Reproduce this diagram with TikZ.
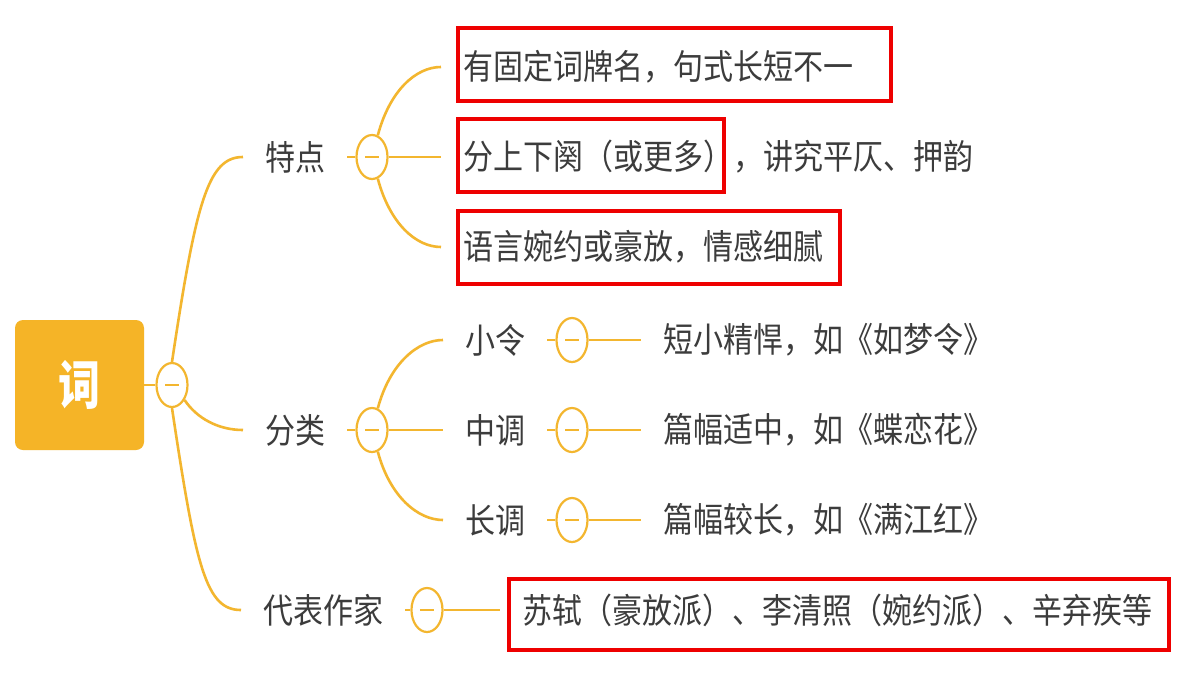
\documentclass[tikz,border=0pt]{standalone}
\usepackage{fontspec}
\setmainfont{Noto Sans CJK SC}
\usetikzlibrary{shapes.geometric}
\definecolor{gold}{HTML}{F3B62F}
\definecolor{rootc}{HTML}{F5B427}
\definecolor{txt}{HTML}{3C3C3C}
\definecolor{mark}{HTML}{EE0000}
\newcommand\vt[1]{\scalebox{1}[1.15]{#1}}
\begin{document}
\begin{tikzpicture}[x=1pt,y=-1pt,
 conn/.style={draw=gold,line width=2.6pt},
 fold/.style={ellipse,draw=gold,line width=2.2pt,fill=white,minimum width=31pt,minimum height=44pt,inner sep=0pt,
   path picture={\draw[gold,line width=2.2pt] ([xshift=-7pt]path picture bounding box.center) -- ([xshift=7pt]path picture bounding box.center);}},
 lab/.style={anchor=west,text=txt,font=\fontsize{30}{30}\selectfont,inner xsep=22pt,inner ysep=2pt},
 rootbox/.style={fill=rootc,rounded corners=8pt,minimum width=129pt,minimum height=130pt,text=white,font=\fontsize{42}{42}\selectfont\bfseries},
 redbox/.style={draw=mark,line width=4.5pt}]
\fill[white] (0,0) rectangle (1200,675);
\useasboundingbox (0,0) rectangle (1200,675);
% nodes
\node[rootbox] (r) at (79.5,385) {\scalebox{1}[1.25]{词}};
\node[fold] (rc) at (172,385) {};
\node[lab] (t1) at (243,157) {\vt{特点}};
\node[lab] (t2) at (243,430) {\vt{分类}};
\node[lab] (t3) at (241,610) {\vt{代表作家}};
\node[fold] (c1) at (372,157) {};
\node[fold] (c2) at (372,430) {};
\node[fold] (c3) at (427,610) {};
\node[lab] (a1) at (441,67) {\vt{有固定词牌名，句式长短不一}};
\node[lab] (a2) at (441,157) {\vt{分上下阕（或更多），讲究平仄、押韵}};
\node[lab] (a3) at (441,247) {\vt{语言婉约或豪放，情感细腻}};
\node[lab] (b1) at (443,340) {\vt{小令}};
\node[lab] (b2) at (443,430) {\vt{中调}};
\node[lab] (b3) at (443,520) {\vt{长调}};
\node[fold] (d1) at (572,340) {};
\node[fold] (d2) at (572,430) {};
\node[fold] (d3) at (572,520) {};
\node[lab] (e1) at (641,340) {\vt{短小精悍，如《如梦令》}};
\node[lab] (e2) at (641,430) {\vt{篇幅适中，如《蝶恋花》}};
\node[lab] (e3) at (641,520) {\vt{篇幅较长，如《满江红》}};
\node[lab] (f1) at (500,610) {\vt{苏轼（豪放派）、李清照（婉约派）、辛弃疾等}};
% connectors
\draw[conn] (r.east) -- (rc.west);
\draw[conn] (rc.north) .. controls +(24,-160) and +(-35,0) .. (t1.west);
\draw[conn] (rc.-50) .. controls +(12,18) and +(-25,0) .. (t2.west);
\draw[conn] (rc.south) .. controls +(24,160) and +(-35,0) .. (t3.west);
\draw[conn] (t1.east) -- (c1.west);
\draw[conn] (t2.east) -- (c2.west);
\draw[conn] (t3.east) -- (c3.west);
\draw[conn] (c1.75) .. controls +(12,-45) and +(-25,0) .. (a1.west);
\draw[conn] (c1.east) -- (a2.west);
\draw[conn] (c1.-75) .. controls +(12,45) and +(-25,0) .. (a3.west);
\draw[conn] (c2.75) .. controls +(12,-45) and +(-25,0) .. (b1.west);
\draw[conn] (c2.east) -- (b2.west);
\draw[conn] (c2.-75) .. controls +(12,45) and +(-25,0) .. (b3.west);
\draw[conn] (b1.east) -- (d1.west);
\draw[conn] (b2.east) -- (d2.west);
\draw[conn] (b3.east) -- (d3.west);
\draw[conn] (d1.east) -- (e1.west);
\draw[conn] (d2.east) -- (e2.west);
\draw[conn] (d3.east) -- (e3.west);
\draw[conn] (c3.east) -- (f1.west);
% red marks
\draw[redbox] (458,28) rectangle (891,101);
\draw[redbox] (458,119) rectangle (724,192);
\draw[redbox] (458,211) rectangle (840,284);
\draw[redbox] (509,579) rectangle (1169,650);
\end{tikzpicture}
\end{document}
